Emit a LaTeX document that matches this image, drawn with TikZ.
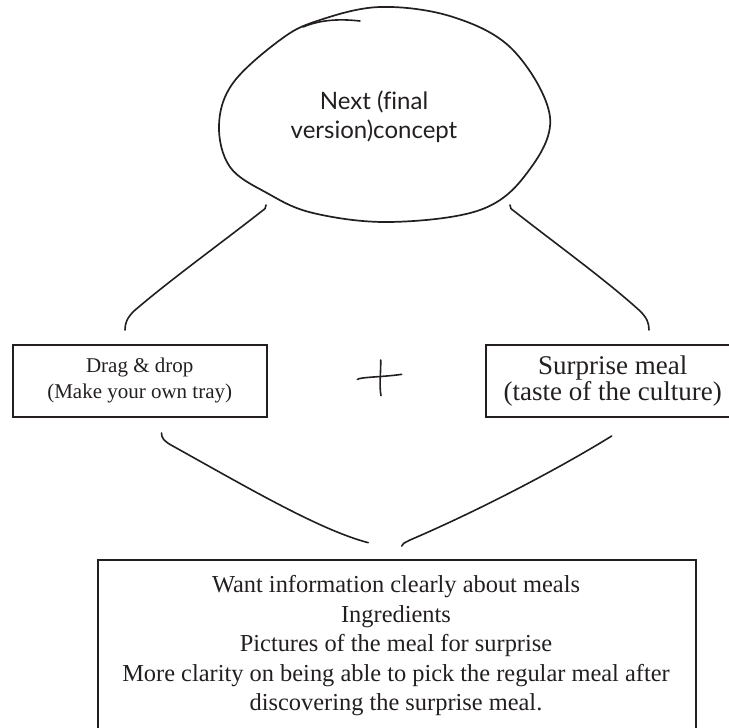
\documentclass[tikz,border=0pt]{standalone}
\usepackage{fontspec}
\setmainfont{Liberation Serif}[Ligatures=NoCommon]
\newfontfamily\conceptfont{Lato}[Ligatures=NoCommon]
\definecolor{ink}{HTML}{231F20}
\begin{document}
\begin{tikzpicture}[x=1pt,y=-1pt,
  pen/.style={draw=ink, line width=1.6pt, line cap=round, line join=round},
  box/.style={draw=ink, line width=1.9pt, inner sep=0pt, text=ink, align=center},
  label/.style={inner sep=0pt, text=ink, align=center}]
\useasboundingbox (0,0) rectangle (729,728);
\clip (0,0) rectangle (729,728);

% hand-drawn outline of the concept bubble
\draw[pen, line width=1.7pt] plot[smooth cycle, tension=0.6] coordinates {
  (380,7) (453,17) (513,50) (550,117) (527,173) (480,210) (390,222)
  (313,213) (267,193) (230,167) (219,125) (233,83) (280,40) (317,21)};
\coordinate (tailA) at (360,21);
\coordinate (tailB) at (303,27);
\draw[pen] (tailA) .. controls (342,19) and (322,19) .. (tailB);

\node[label, font=\conceptfont\fontsize{24}{28.5}\selectfont] (concept) at (374,117)
  {Next (final\\version)concept};

% the two idea boxes
\node[box, minimum width=254pt, minimum height=71.7pt,
  font=\fontsize{21}{26}\selectfont] (drag) at (139.7,380.8)
  {Drag \& drop\\(Make your own tray)};
\node[box, minimum width=254pt, minimum height=71.7pt,
  font=\fontsize{27}{25.5}\selectfont] (surprise) at (612.7,380.8)
  {Surprise meal\\(taste of the culture)};

% plus sign between the boxes
\coordinate (plusL) at (357.3,379.5);
\coordinate (plusR) at (401.7,374.3);
\coordinate (plusT) at (380.7,360);
\coordinate (plusB) at (381,395.7);
\draw[pen] (plusL) .. controls (359,377) and (385,377) .. (plusR);
\draw[pen] (plusT) .. controls (381,372) and (379,385) .. (plusB);

% feedback box
\node[box, anchor=north west, minimum width=598pt, minimum height=190pt] (wantsbox)
  at (96.7,559) {};
\node[label, anchor=north, font=\fontsize{24.4}{29.5}\selectfont] (wants) at (396,575.3)
  {Want information clearly about meals\\
   Ingredients\\
   Pictures of the meal for surprise\\
   More clarity on being able to pick the regular meal after\\
   discovering the surprise meal.};

% strokes from the concept down to the boxes
\coordinate (ulA) at (266,205);
\coordinate (ulB) at (125,330);
\draw[pen] (ulA) .. controls (266,208) and (265,209) .. (262,211)
  .. controls (220,244) and (170,280) .. (134,311)
  .. controls (127,318) and (125,323) .. (ulB);
\coordinate (urA) at (510,205);
\coordinate (urB) at (649,330);
\draw[pen] (urA) .. controls (510,208) and (511,209) .. (514,211)
  .. controls (556,244) and (606,280) .. (640,311)
  .. controls (647,318) and (649,323) .. (urB);

% strokes from the boxes down to the feedback
\coordinate (llA) at (161.5,433);
\coordinate (llB) at (368.3,542.7);
\draw[pen] (llA) .. controls (161.5,438) and (164,441) .. (171,445)
  .. controls (250,489) and (320,530) .. (llB);
\coordinate (lrA) at (401.7,546);
\coordinate (lrB) at (611.7,436);
\draw[pen] (lrA) .. controls (402,544) and (404,543) .. (410,540)
  .. controls (480,510) and (560,468) .. (lrB);
\end{tikzpicture}
\end{document}
